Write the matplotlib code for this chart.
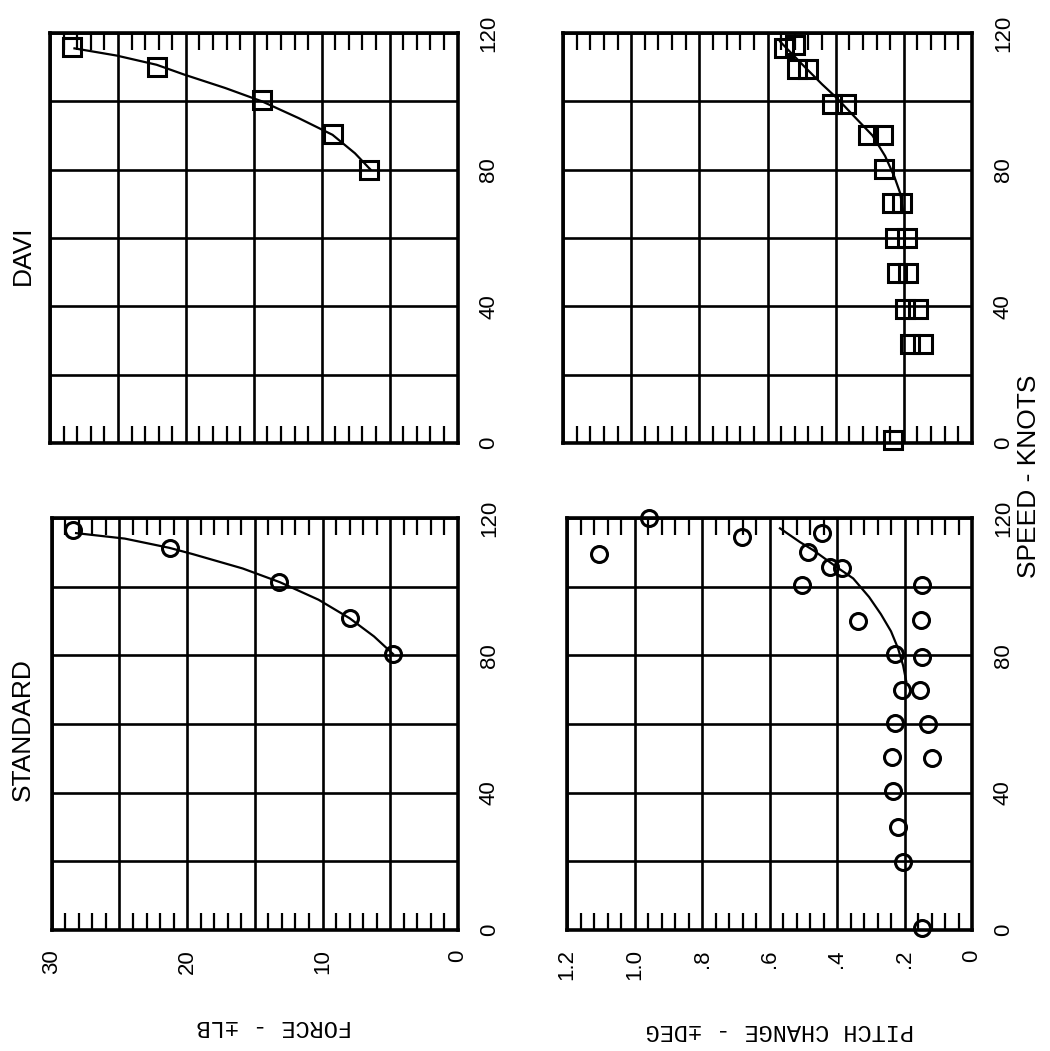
import matplotlib
matplotlib.use("Agg")
import matplotlib.pyplot as plt
from matplotlib.ticker import FixedLocator, FixedFormatter, MultipleLocator

# ---------------- data ----------------
speed_ticks = [0, 20, 40, 60, 80, 100, 120]
speed_labels = ["0", "", "40", "", "80", "", "120"]
force_ticks = [0, 5, 10, 15, 20, 25, 30]
force_labels = ["0", "", "10", "", "20", "", "30"]
pitch_ticks = [0, 0.2, 0.4, 0.6, 0.8, 1.0, 1.2]
pitch_labels = ["0", ".2", ".4", ".6", ".8", "1.0", "1.2"]

# DAVI - force
davi_force_speed = [80, 90.5, 100.5, 110, 116]
davi_force_lb = [6.5, 9.2, 14.4, 22.1, 28.4]
davi_force_curve_speed = [80, 84.8, 90.2, 95.1, 100, 103.9, 107.8, 110.7, 113.4, 115.5]
davi_force_curve_lb = [6.4, 7.55, 9.2, 11.7, 14.4, 17.1, 20.1, 22.15, 25.1, 28.2]

# STANDARD - force
std_force_speed = [80.4, 90.8, 101.3, 111.3, 116.5]
std_force_lb = [4.8, 8.0, 13.2, 21.3, 28.4]
std_force_curve_speed = [80.4, 85.5, 90.8, 96.2, 101.3, 105.3, 109.5, 111.3, 114.0, 115.6]
std_force_curve_lb = [4.8, 6.2, 8.0, 10.3, 13.15, 15.9, 19.6, 21.3, 24.6, 28.2]

# DAVI - pitch change
davi_pitch_speed = [116.6, 115.7, 109.4, 109.4, 99.2, 99.2, 90.1, 90.1, 80.1,
                    70.3, 70.3, 60.1, 60.1, 49.7, 49.7, 39.1, 39.1, 28.9, 28.9, 1.0]
davi_pitch_deg = [0.519, 0.553, 0.514, 0.480, 0.411, 0.370, 0.304, 0.262, 0.258,
                  0.235, 0.204, 0.226, 0.191, 0.221, 0.187, 0.196, 0.157, 0.182, 0.143, 0.231]
davi_pitch_curve_speed = [117.5, 111, 105, 101, 95, 90, 84, 78, 73.2, 67.4]
davi_pitch_curve_deg = [0.563, 0.50, 0.44, 0.397, 0.34, 0.292, 0.255, 0.228, 0.211, 0.201]

# STANDARD - pitch change
std_pitch_speed = [109.6, 120, 114.5, 115.5, 110.1, 105.7, 105.3, 100.6, 100.4,
                   89.9, 90.2, 80.5, 79.5, 69.8, 69.8, 60.3, 60.1, 50.4, 50.0,
                   40.5, 30.0, 19.9, 0.5]
std_pitch_deg = [1.104, 0.956, 0.682, 0.445, 0.485, 0.421, 0.386, 0.505, 0.149,
                 0.337, 0.151, 0.228, 0.149, 0.208, 0.154, 0.228, 0.129, 0.238, 0.119,
                 0.233, 0.218, 0.204, 0.149]
std_pitch_curve_speed = [117, 113, 110.6, 105.7, 102.4, 97, 92, 87, 82, 77, 72.5]
std_pitch_curve_deg = [0.569, 0.51, 0.47, 0.401, 0.352, 0.305, 0.270, 0.240, 0.219, 0.204, 0.195]

# ---------------- figure ----------------
W, H = 1050, 1051
fig = plt.figure(figsize=(W / 100, H / 100), dpi=100)
fig.patch.set_facecolor("white")

SANS = ["Liberation Sans", "DejaVu Sans"]
MONO = ["Liberation Mono", "DejaVu Sans Mono"]


def add_ax(x0, x1, y0, y1):
    return fig.add_axes([x0 / W, 1 - y1 / H, (x1 - x0) / W, (y1 - y0) / H])


def setup(ax, ticks, labels, minor, show_values):
    ax.set_xlim(ticks[-1], 0)
    ax.set_ylim(0, 120)
    ax.xaxis.set_major_locator(FixedLocator(ticks))
    ax.xaxis.set_major_formatter(FixedFormatter(labels))
    ax.xaxis.set_minor_locator(MultipleLocator(minor))
    ax.yaxis.set_major_locator(FixedLocator(speed_ticks))
    ax.yaxis.set_major_formatter(FixedFormatter(speed_labels))
    ax.grid(True, which="major", color="black", lw=1.9)
    ax.set_axisbelow(True)
    for s in ax.spines.values():
        s.set_linewidth(2.6)
        s.set_color("black")
    ax.tick_params(axis="x", which="major", length=0, pad=14,
                   labelbottom=show_values, labelrotation=90, labelsize=16)
    ax.tick_params(axis="x", which="minor", direction="in", top=True, bottom=True,
                   length=12, width=1.6, color="black")
    ax.yaxis.tick_right()
    ax.tick_params(axis="y", which="major", length=0, pad=15, labelrotation=90,
                   labelsize=16, right=True, left=False)
    for lab in ax.get_xticklabels() + ax.get_yticklabels():
        lab.set_family(SANS)
    for lab in ax.get_yticklabels():
        lab.set_va("center")
        lab.set_ha("left")


sq = dict(marker="s", ms=12.5, mfc="none", mec="black", mew=2.2, ls="none")
ci = dict(marker="o", ms=11.5, mfc="none", mec="black", mew=2.2, ls="none")
ln = dict(color="black", lw=1.6)

# top-left: DAVI force
ax1 = add_ax(50, 457.5, 33, 443)
setup(ax1, force_ticks, force_labels, 1, False)
ax1.plot(davi_force_curve_lb, davi_force_curve_speed, **ln)
ax1.plot(davi_force_lb, davi_force_speed, clip_on=False, **sq)

# top-right: DAVI pitch
ax2 = add_ax(563, 972, 33, 443)
setup(ax2, pitch_ticks, pitch_labels, 0.04, False)
ax2.plot(davi_pitch_curve_deg, davi_pitch_curve_speed, **ln)
ax2.plot(davi_pitch_deg, davi_pitch_speed, clip_on=False, **sq)

# bottom-left: STANDARD force
ax3 = add_ax(51.7, 458, 518, 930)
setup(ax3, force_ticks, force_labels, 1, True)
ax3.plot(std_force_curve_lb, std_force_curve_speed, **ln)
ax3.plot(std_force_lb, std_force_speed, clip_on=False, **ci)

# bottom-right: STANDARD pitch
ax4 = add_ax(567, 972, 518, 930)
setup(ax4, pitch_ticks, pitch_labels, 0.04, True)
ax4.plot(std_pitch_curve_deg, std_pitch_curve_speed, **ln)
ax4.plot(std_pitch_deg, std_pitch_speed, clip_on=False, **ci)

# texts
fig.text(23 / W, 1 - 255 / H, "DAVI", rotation=90, ha="center", va="center",
         fontsize=19, family=SANS)
fig.text(23 / W, 1 - 730 / H, "STANDARD", rotation=90, ha="center", va="center",
         fontsize=19, family=SANS)
fig.text(1029 / W, 1 - 476 / H, "SPEED - KNOTS", rotation=90, ha="center", va="center",
         fontsize=19, family=SANS)
fig.text(274 / W, 1 - 1026 / H, "FORCE - \u00b1LB", rotation=180, ha="center", va="center",
         fontsize=17, family=MONO)
fig.text(780 / W, 1 - 1030 / H, "PITCH CHANGE - \u00b1DEG", rotation=180, ha="center",
         va="center", fontsize=17, family=MONO)

fig.savefig("out.png", dpi=100, facecolor="white")
